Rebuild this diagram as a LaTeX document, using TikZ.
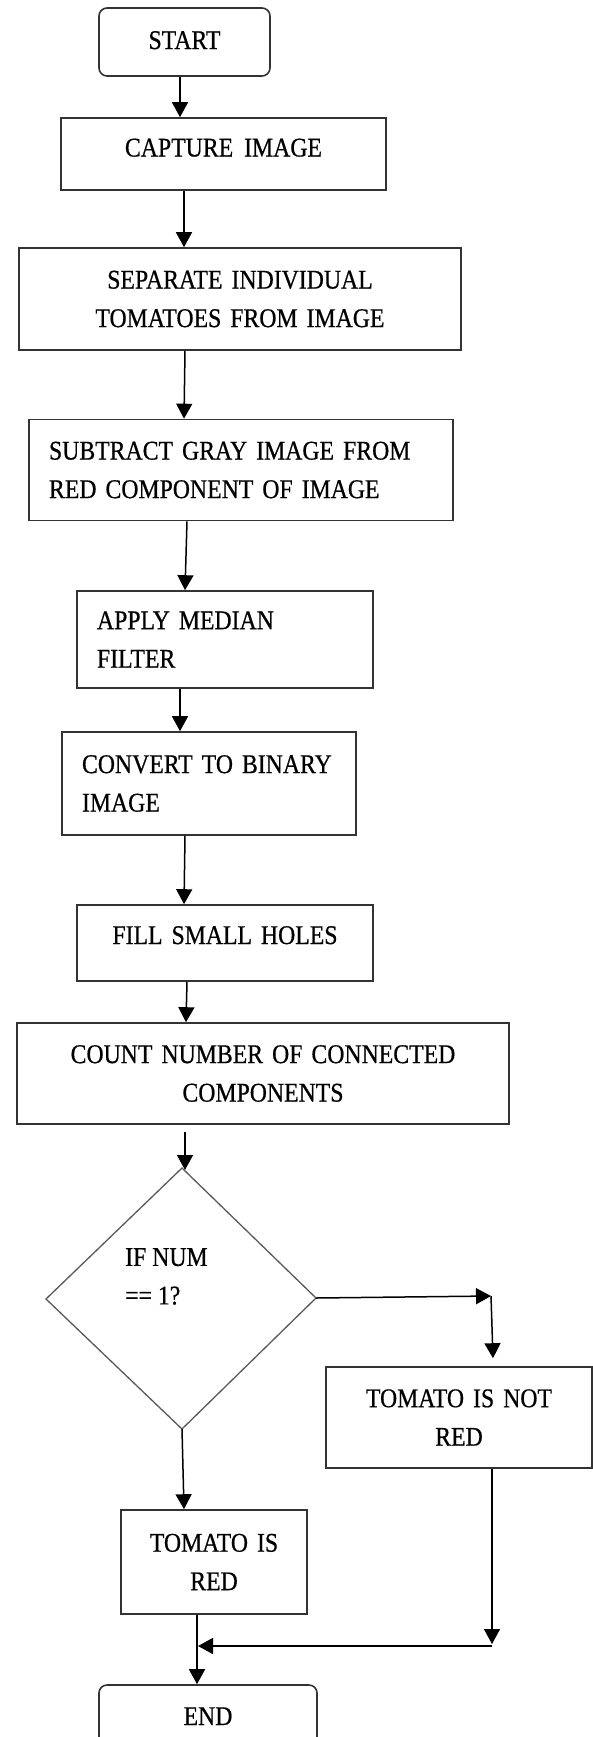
\documentclass[tikz,border=0pt]{standalone}
\usepackage{fontspec}
\setmainfont{Liberation Serif}[FakeStretch=0.88,FakeBold=0.6]
\usetikzlibrary{arrows.meta,calc}
\begin{document}
\begin{tikzpicture}[x=1pt,y=-1pt,
  txt/.style={font=\fontsize{27}{38.5}\selectfont},
  box/.style={txt, draw=black!80, line width=1.6pt, inner xsep=20pt, inner ysep=0pt, align=center},
  sbox/.style={txt, draw=black!80, line width=1.6pt, inner sep=0pt, text height=18pt},
  lbox/.style={box, align=left},
  term/.style={sbox, rounded corners=8pt},
  arr/.style={draw=black, line width=1.5pt, -{Triangle[length=15pt,width=16pt]}},
  ln/.style={draw=black, line width=1.5pt},
  dia/.style={draw=black!65, line width=1.3pt}
]
\clip (0,0) rectangle (593,1737);
\fill[white] (0,0) rectangle (593,1737);

\node[term, minimum width=171pt, minimum height=68pt, text depth=4pt] (start) at (184.5,42) {START};
\node[sbox, minimum width=325pt, minimum height=72pt, text depth=13pt] (cap) at (223.5,154) {CAPTURE\hspace{5pt} IMAGE};
\node[box, text width=402pt, minimum height=102pt] (sep) at (240,299) {SEPARATE INDIVIDUAL\\TOMATOES FROM IMAGE};
\node[lbox, text width=384pt, minimum height=101pt] (sub) at (241,470) {SUBTRACT GRAY IMAGE FROM\\RED COMPONENT OF IMAGE};
\node[lbox, text width=256pt, minimum height=97pt] (med) at (225,639.5) {APPLY MEDIAN\\FILTER};
\node[lbox, text width=254pt, minimum height=103pt] (bin) at (209,783.5) {CONVERT TO BINARY\\IMAGE};
\node[sbox, minimum width=296pt, minimum height=76pt, text depth=16pt] (fill) at (225,943) {FILL\hspace{3pt} SMALL\hspace{3pt} HOLES};
\node[box, text width=452pt, minimum height=101pt] (cnt) at (263,1073.5) {COUNT NUMBER OF CONNECTED\\COMPONENTS};

\coordinate (dt) at (182,1168);
\coordinate (dl) at (46,1299);
\coordinate (dr) at (316,1298);
\coordinate (db) at (182,1429);
\draw[dia] (dt) -- (dr) -- (db) -- (dl) -- cycle;
\node[txt, align=left, anchor=west, inner sep=0pt] (dtext) at (125,1276.5) {IF NUM\\== 1?};

\node[box, text width=226pt, minimum height=101pt] (nred) at (459,1417.5) {TOMATO IS NOT\\RED};
\node[box, text width=146pt, minimum height=104pt] (red) at (214,1562) {TOMATO IS\\RED};
\node[term, minimum width=218pt, minimum height=70pt, text depth=8pt] (end) at (208,1720) {END};

\draw[arr] (start.south -| 180,0) -- (cap.north -| 180,0);
\draw[arr] (cap.south -| 184,0) -- (sep.north -| 184,0);
\draw[arr] (sep.south -| 185,0) -- (sub.north -| 184,0);
\draw[arr] (sub.south -| 187,0) -- (med.north -| 185,0);
\draw[arr] (med.south -| 180,0) -- (bin.north -| 180,0);
\draw[arr] (bin.south -| 185,0) -- (fill.north -| 184,0);
\draw[arr] (fill.south -| 187,0) -- (cnt.north -| 186,0);
\draw[arr] ($(cnt.south -| 185,0)+(0,7)$) -- ($(dt)+(3,2)$);

\coordinate (rt) at (491,1296);
\draw[arr] (dr) -- (rt);
\draw[arr] (rt) -- ($(nred.north -| 493,0)+(0,-8)$);

\draw[arr] (db) -- (red.north -| 184,0);

\coordinate (jr) at (492,1646);
\coordinate (jl) at (197,1646);
\draw[arr] (nred.south -| jr) -- ($(jr)+(0,-2)$);
\draw[arr] (jr) -- ($(jl)+(1,0)$);
\draw[arr] (red.south -| jl) -- (end.north -| jl);
\end{tikzpicture}
\end{document}
